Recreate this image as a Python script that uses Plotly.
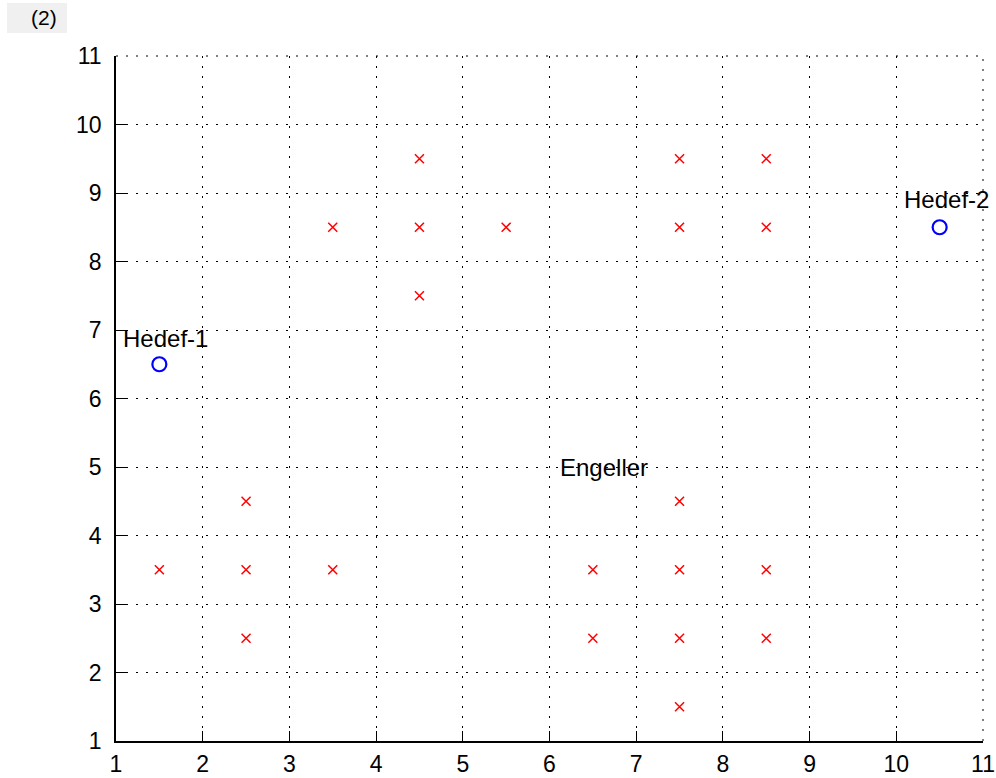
import plotly.graph_objects as go

# Obstacles (Engeller)
obs_x = [4.5, 7.5, 8.5, 3.5, 4.5, 5.5, 7.5, 8.5, 4.5, 2.5, 7.5,
         1.5, 2.5, 3.5, 6.5, 7.5, 8.5, 2.5, 6.5, 7.5, 8.5, 7.5]
obs_y = [9.5, 9.5, 9.5, 8.5, 8.5, 8.5, 8.5, 8.5, 7.5, 4.5, 4.5,
         3.5, 3.5, 3.5, 3.5, 3.5, 3.5, 2.5, 2.5, 2.5, 2.5, 1.5]

# Targets (Hedef)
tgt_x = [1.5, 10.5]
tgt_y = [6.5, 8.5]

# Text labels
label_text = ["Hedef-1", "Hedef-2", "Engeller"]
label_x = [1.57, 10.58, 6.63]
label_y = [6.87, 8.9, 5.0]

tick_vals = list(range(1, 12))

W, H = 996, 778
ML, MR, MT, MB = 116, 13, 56, 37
PW, PH = W - ML - MR, H - MT - MB

def px_x(px):
    return (px - ML) / PW

def px_y(py):
    return (H - MB - py) / PH

FONT = "Liberation Sans, Arial"
DASH = "2px,8px"

fig = go.Figure()
fig.add_trace(go.Scatter(
    x=obs_x, y=obs_y, mode="markers",
    marker=dict(symbol="x-thin-open", size=9, color="#ff0000",
                line=dict(color="#ff0000", width=1.5)),
    showlegend=False, hoverinfo="x+y"))
fig.add_trace(go.Scatter(
    x=tgt_x, y=tgt_y, mode="markers",
    marker=dict(symbol="circle-open", size=14, color="#0000ff",
                line=dict(color="#0000ff", width=2.2)),
    showlegend=False, hoverinfo="x+y"))

for t, x, y in zip(label_text, label_x, label_y):
    fig.add_annotation(x=x, y=y, text=t, showarrow=False,
                       font=dict(family=FONT, size=24, color="black"),
                       xanchor="center", yanchor="middle")

# "(2)" tab at top-left
fig.add_shape(type="rect", xref="paper", yref="paper",
              x0=px_x(7), x1=px_x(67), y0=px_y(33), y1=px_y(3),
              fillcolor="#f0f0f0", line=dict(width=0), layer="below")
fig.add_annotation(xref="paper", yref="paper", x=px_x(44), y=px_y(18),
                   text="(2)", showarrow=False, xanchor="center", yanchor="middle",
                   font=dict(family=FONT, size=21, color="black"))

# dotted grid lines on the top and right edges
fig.add_shape(type="line", xref="paper", yref="paper", x0=0, x1=1, y0=1, y1=1,
              line=dict(color="black", width=1, dash=DASH))
fig.add_shape(type="line", xref="paper", yref="paper", x0=1, x1=1, y0=0, y1=1,
              line=dict(color="black", width=1, dash=DASH))

axis_common = dict(
    range=[1, 11], tickvals=tick_vals, ticks="inside", ticklen=10,
    tickcolor="black", tickwidth=1,
    showline=True, linecolor="black", linewidth=1.5, mirror=False,
    showgrid=True, gridcolor="black", gridwidth=1, griddash=DASH,
    zeroline=False, automargin=False,
    tickfont=dict(family=FONT, size=23, color="black"),
)

fig.update_xaxes(**axis_common, ticklabelstandoff=2)
fig.update_yaxes(**axis_common, ticklabelstandoff=8)

fig.update_layout(
    width=W, height=H, autosize=False,
    margin=dict(l=ML, r=MR, t=MT, b=MB, pad=0, autoexpand=False),
    plot_bgcolor="white", paper_bgcolor="white",
)

fig.write_html("out.html",
               config={"displayModeBar": False},
               post_script="document.body.style.margin='0';document.body.style.overflow='hidden';")
